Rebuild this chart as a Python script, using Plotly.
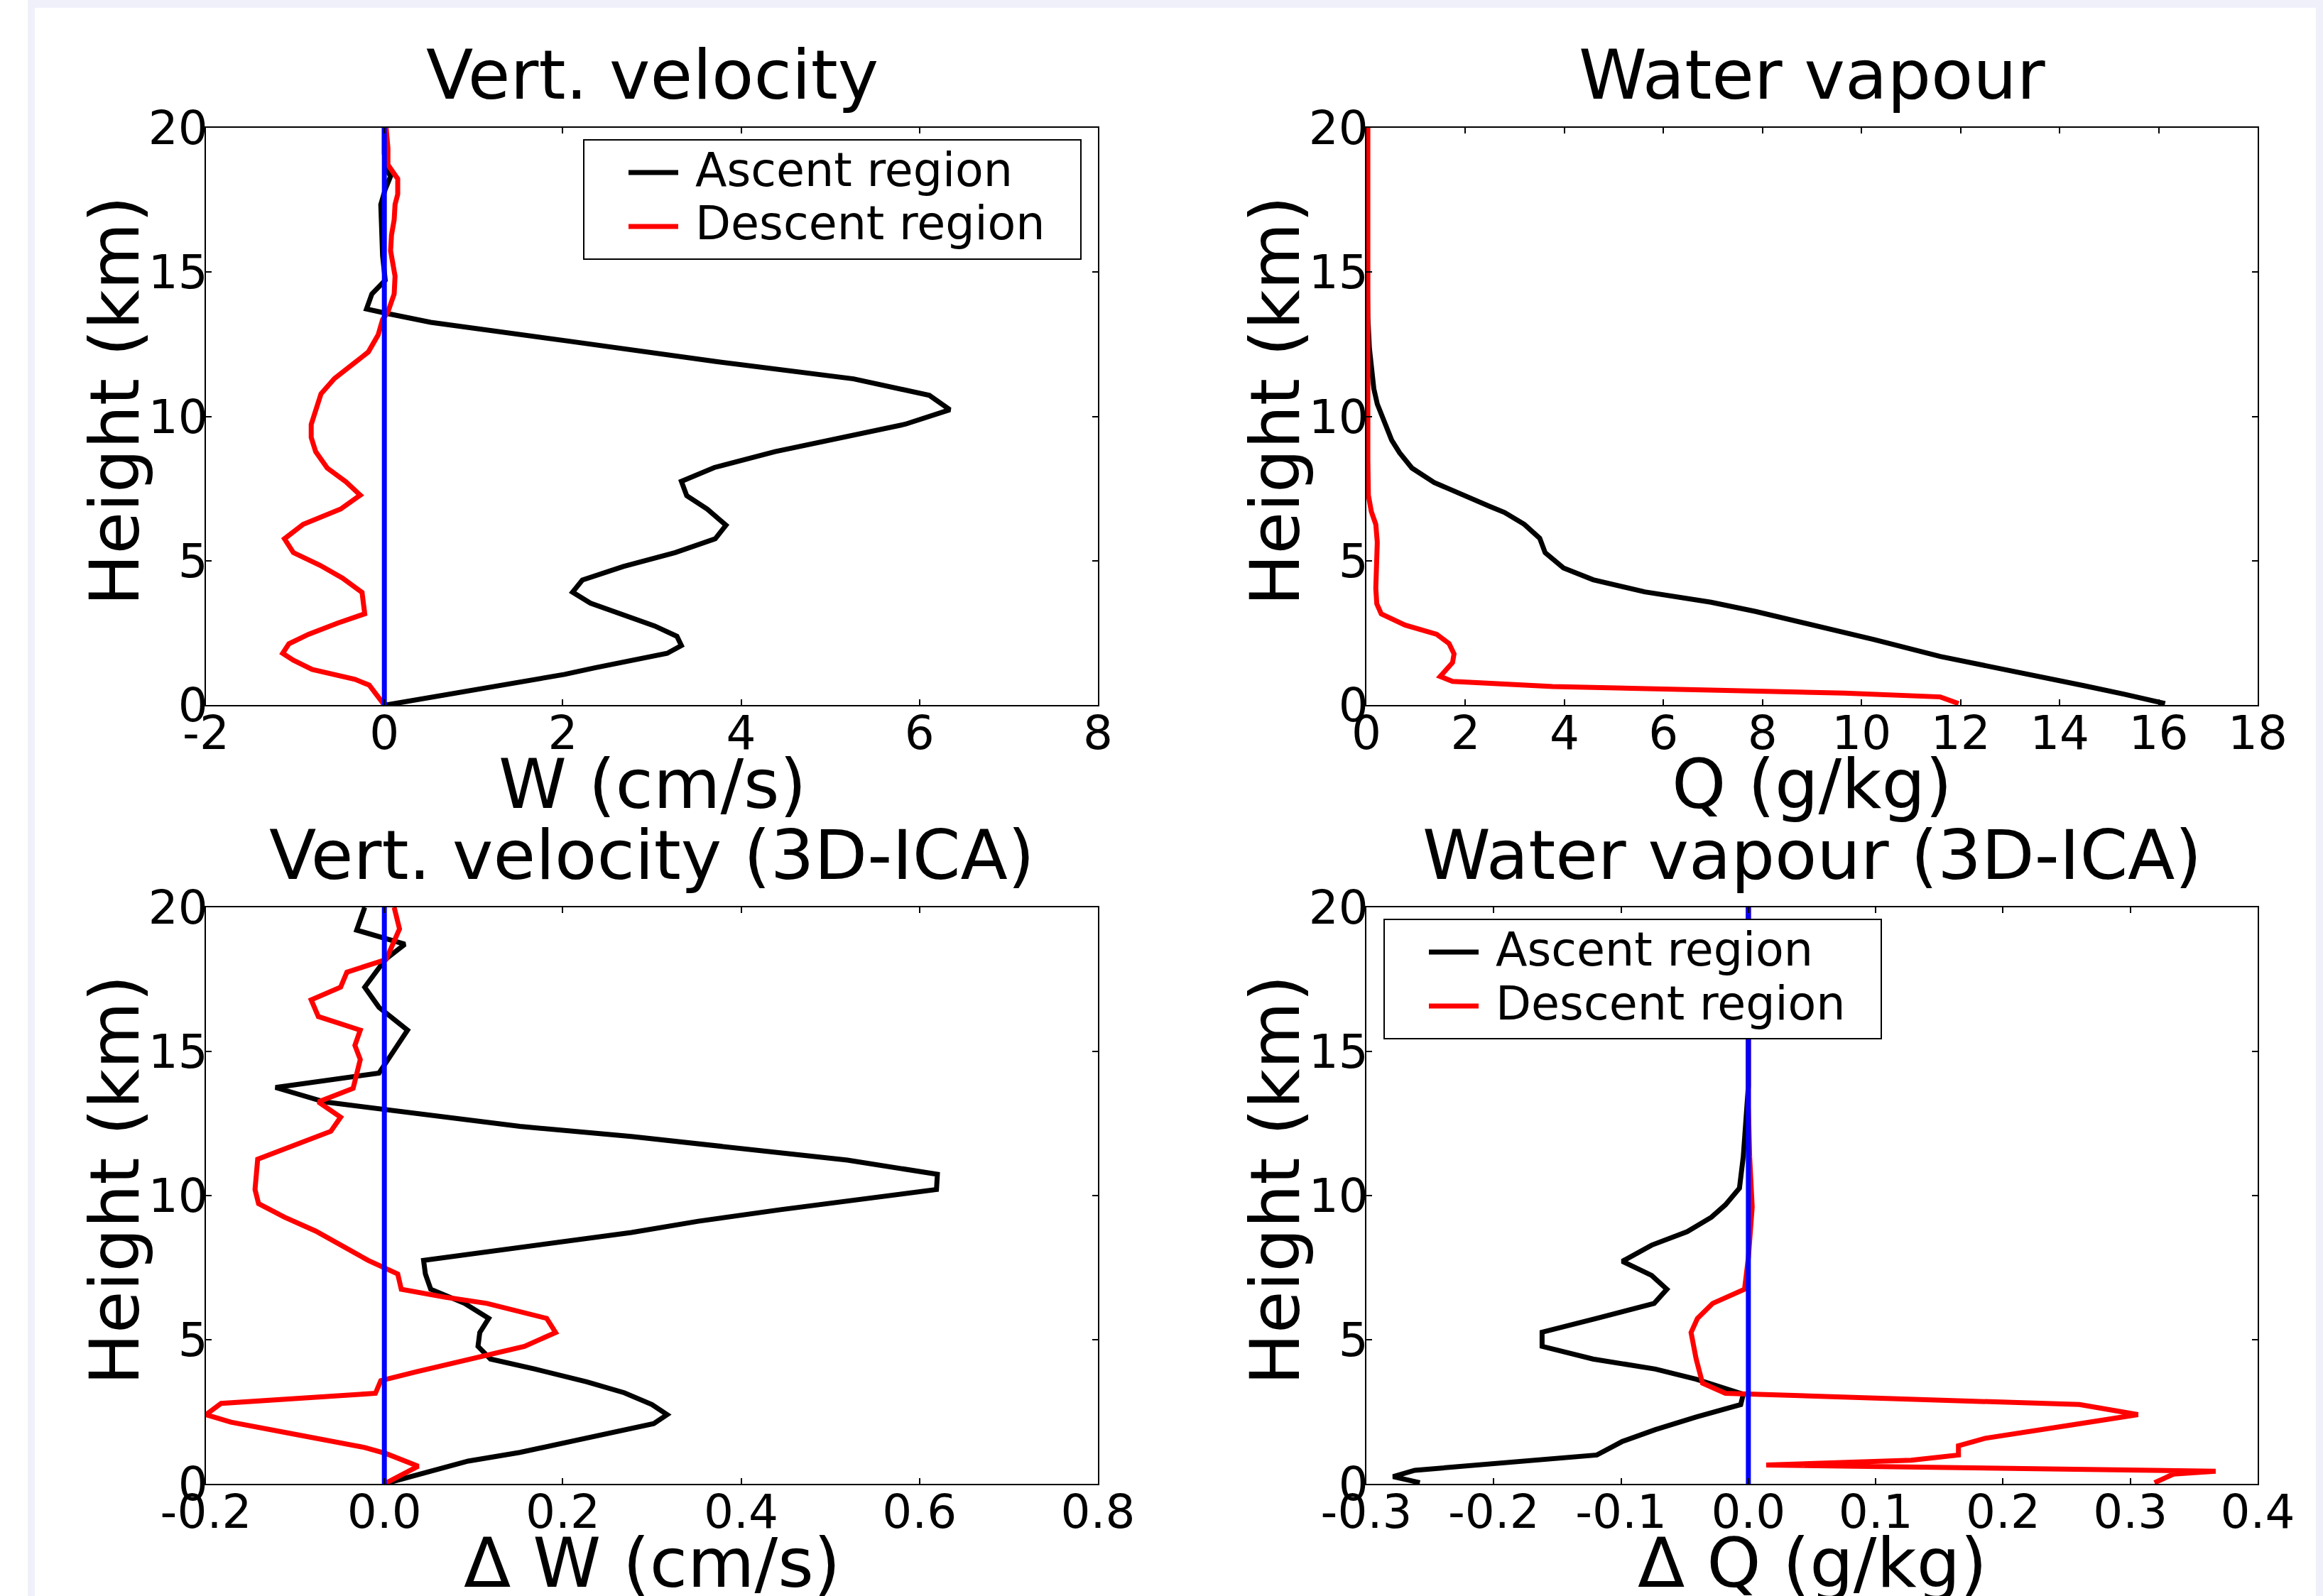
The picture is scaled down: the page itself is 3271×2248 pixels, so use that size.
import plotly.graph_objects as go

# ---------------- data ----------------
# Panel 1: vertical velocity W (cm/s) vs height (km)
H_W_ASC = [0.0, 0.5, 1.06, 1.29, 1.55, 1.79, 2.06, 2.38, 2.74, 3.53, 3.91, 4.33, 4.80, 5.28, 5.76, 6.23,
           6.79, 7.25, 7.75, 8.23, 8.78, 9.30, 9.73, 10.23, 10.73, 11.30, 11.90, 12.61, 12.94, 13.26,
           13.58, 13.72, 14.24, 14.72, 15.57, 16.45, 17.34, 17.87, 18.32, 18.58, 19.1, 20.0]
W_ASC = [0.02, 0.95, 2.02, 2.36, 2.80, 3.17, 3.33, 3.28, 3.03, 2.31, 2.11, 2.22, 2.68, 3.26, 3.71, 3.83,
         3.62, 3.39, 3.33, 3.70, 4.38, 5.15, 5.84, 6.34, 6.11, 5.26, 3.72, 2.06, 1.27, 0.52,
         0.01, -0.20, -0.14, 0.01, -0.02, -0.03, -0.04, 0.01, 0.07, 0.02, 0.0, 0.0]
H_W_DES = [0.0, 0.69, 0.89, 1.23, 1.55, 1.79, 2.12, 2.45, 2.84, 3.16, 3.90, 4.40, 4.84, 5.28, 5.76, 6.26,
           6.79, 7.27, 7.73, 8.21, 8.78, 9.27, 9.72, 10.25, 10.78, 11.31, 11.93, 12.23, 12.82, 13.35,
           13.62, 14.24, 14.86, 15.39, 15.74, 16.28, 16.81, 17.34, 17.70, 18.23, 18.72, 19.3, 20.0]
W_DES = [0.0, -0.17, -0.33, -0.81, -1.02, -1.14, -1.07, -0.85, -0.52, -0.22, -0.25, -0.47, -0.72, -1.02,
         -1.12, -0.91, -0.49, -0.27, -0.43, -0.64, -0.77, -0.82, -0.82, -0.77, -0.71, -0.56, -0.31, -0.18,
         -0.07, -0.02, 0.04, 0.11, 0.12, 0.09, 0.07, 0.08, 0.11, 0.12, 0.15, 0.15, 0.04, 0.04, 0.02]

# Panel 2: water vapour Q (g/kg)
H_Q_ASC = [0.05, 0.23, 0.37, 0.67, 0.85, 1.29, 1.68, 2.27, 2.71, 3.24, 3.56, 3.92, 4.34, 4.75, 5.28, 5.78,
           6.26, 6.67, 6.88, 7.32, 7.71, 8.21, 8.74, 9.18, 9.80, 10.43, 10.96, 11.67, 12.38, 13.44, 15.57, 20.0]
Q_ASC = [16.13, 15.69, 15.31, 14.49, 13.97, 12.63, 11.59, 10.24, 9.20, 7.86, 6.96, 5.62, 4.58, 3.98, 3.61,
         3.50, 3.19, 2.79, 2.49, 1.89, 1.37, 0.92, 0.67, 0.51, 0.36, 0.22, 0.15, 0.10, 0.06, 0.03, 0.01, 0.01]
H_Q_DES = [0.05, 0.28, 0.41, 0.64, 0.82, 0.99, 1.47, 1.77, 2.13, 2.45, 2.77, 3.16, 3.51, 4.04, 5.64, 6.26,
           6.70, 7.27, 8.48, 20.0]
Q_DES = [11.96, 11.59, 9.65, 3.76, 1.74, 1.49, 1.74, 1.77, 1.67, 1.42, 0.78, 0.30, 0.21, 0.19, 0.22, 0.19,
         0.10, 0.04, 0.03, 0.03]

# Panel 3: delta W (3D-ICA)
H_DW_ASC = [0.0, 0.30, 0.79, 1.09, 1.82, 2.09, 2.40, 2.75, 3.16, 3.54, 3.98, 4.33, 4.77, 5.25, 5.74, 6.26,
            6.75, 7.28, 7.75, 8.19, 8.72, 9.11, 9.51, 10.21, 10.74, 11.23, 11.70, 12.05, 12.40, 13.25,
            13.75, 14.25, 15.04, 15.74, 16.53, 17.23, 18.19, 18.72, 19.21, 20.0]
DW_ASC = [0.0, 0.036, 0.094, 0.152, 0.265, 0.302, 0.317, 0.300, 0.269, 0.227, 0.169, 0.119, 0.105, 0.107,
          0.117, 0.090, 0.052, 0.046, 0.044, 0.152, 0.277, 0.352, 0.444, 0.619, 0.620, 0.519, 0.386, 0.277,
          0.152, -0.067, -0.122, -0.006, 0.011, 0.026, -0.006, -0.022, 0.001, 0.023, -0.031, -0.022]
H_DW_DES = [0.0, 0.61, 1.05, 1.26, 1.70, 2.14, 2.40, 2.79, 3.14, 3.58, 3.89, 4.37, 4.77, 5.25, 5.74, 6.26,
            6.47, 6.75, 7.28, 7.75, 8.19, 8.77, 9.25, 9.72, 10.21, 11.26, 12.23, 12.72, 13.25, 13.72,
            14.72, 15.21, 15.74, 16.21, 16.79, 17.23, 17.75, 18.19, 19.25, 20.0]
DW_DES = [0.0, 0.038, 0.002, -0.022, -0.097, -0.172, -0.200, -0.183, -0.010, -0.004, 0.036, 0.102, 0.157,
          0.192, 0.182, 0.115, 0.069, 0.019, 0.015, -0.018, -0.043, -0.077, -0.112, -0.141, -0.145, -0.142,
          -0.060, -0.049, -0.074, -0.035, -0.027, -0.033, -0.027, -0.074, -0.082, -0.049, -0.042, 0.002,
          0.017, 0.011]

# Panel 4: delta Q (3D-ICA)
H_DQ_ASC = [0.04, 0.25, 0.47, 0.82, 1.0, 1.47, 1.88, 2.32, 2.75, 3.11, 3.63, 3.98, 4.33, 4.77, 5.26, 5.74,
            6.26, 6.75, 7.23, 7.72, 8.28, 8.75, 9.25, 9.68, 10.26, 11.35, 12.40, 13.8, 20.0]
DQ_ASC = [-0.258, -0.279, -0.262, -0.160, -0.119, -0.099, -0.073, -0.041, -0.006, -0.004, -0.041, -0.073,
          -0.122, -0.162, -0.162, -0.119, -0.074, -0.064, -0.076, -0.099, -0.076, -0.048, -0.029, -0.018,
          -0.007, -0.004, -0.002, 0.0, 0.0]
H_DQ_DES = [0.04, 0.34, 0.44, 0.65, 0.82, 1.0, 1.32, 1.58, 2.05, 2.40, 2.75, 3.14, 3.49, 4.33, 5.25, 5.74,
            6.26, 6.75, 7.84, 9.6, 11.35, 13.1, 20.0]
DQ_DES = [0.319, 0.334, 0.367, 0.014, 0.128, 0.165, 0.165, 0.186, 0.255, 0.306, 0.260, -0.018, -0.036,
          -0.041, -0.045, -0.040, -0.028, -0.003, 0.0, 0.003, 0.001, 0.0, 0.0]

# Zero reference line
ZERO_X = [0, 0]
ZERO_H = [0, 20]

# Tick labels
X1_TICKS = [-2, 0, 2, 4, 6, 8]
X1_TEXT = ["-2", "0", "2", "4", "6", "8"]
X2_TICKS = [0, 2, 4, 6, 8, 10, 12, 14, 16, 18]
X2_TEXT = ["0", "2", "4", "6", "8", "10", "12", "14", "16", "18"]
X3_TICKS = [-0.2, 0.0, 0.2, 0.4, 0.6, 0.8]
X3_TEXT = ["-0.2", "0.0", "0.2", "0.4", "0.6", "0.8"]
X4_TICKS = [-0.3, -0.2, -0.1, 0.0, 0.1, 0.2, 0.3, 0.4]
X4_TEXT = ["-0.3", "-0.2", "-0.1", "0.0", "0.1", "0.2", "0.3", "0.4"]
Y_TICKS = [0, 5, 10, 15, 20]
Y_TEXT = ["0", "5", "10", "15", "20"]

TITLES = ["Vert. velocity", "Water vapour", "Vert. velocity (3D-ICA)", "Water vapour (3D-ICA)"]
XLABELS = ["W (cm/s)", "Q (g/kg)", "\u0394 W (cm/s)", "\u0394 Q (g/kg)"]
YLABEL = "Height (km)"
LEGEND_NAMES = ["Ascent region", "Descent region"]

# ---------------- layout helpers ----------------
WP, HP = 3271, 2248
FONT = "DejaVu Sans"


def fx(x):
    return x / WP


def fy(y):
    return 1 - y / HP


# axes boxes in pixels: left, right, top, bottom
BOX = {
    1: (290, 1546, 180, 993),
    2: (1924, 3179, 180, 993),
    3: (290, 1546, 1278, 2090),
    4: (1924, 3179, 1278, 2090),
}
RANGES = {1: [-2, 8], 2: [0, 18], 3: [-0.2, 0.8], 4: [-0.3, 0.4]}
XT = {1: (X1_TICKS, X1_TEXT), 2: (X2_TICKS, X2_TEXT), 3: (X3_TICKS, X3_TEXT), 4: (X4_TICKS, X4_TEXT)}

SERIES = {
    1: [(W_ASC, H_W_ASC), (W_DES, H_W_DES)],
    2: [(Q_ASC, H_Q_ASC), (Q_DES, H_Q_DES)],
    3: [(DW_ASC, H_DW_ASC), (DW_DES, H_DW_DES)],
    4: [(DQ_ASC, H_DQ_ASC), (DQ_DES, H_DQ_DES)],
}
ZERO_PANELS = [1, 3, 4]
COLORS = ["#000000", "#ff0000"]
BLUE = "#0000ff"
LW = 7

fig = go.Figure()

for p in (1, 2, 3, 4):
    xa = "x" if p == 1 else f"x{p}"
    ya = "y" if p == 1 else f"y{p}"
    for i, (xs, hs) in enumerate(SERIES[p]):
        fig.add_trace(go.Scatter(x=xs, y=hs, mode="lines", xaxis=xa, yaxis=ya,
                                 line=dict(color=COLORS[i], width=LW),
                                 name=LEGEND_NAMES[i], showlegend=False, hoverinfo="skip"))
    if p in ZERO_PANELS:
        fig.add_trace(go.Scatter(x=ZERO_X, y=ZERO_H, mode="lines", xaxis=xa, yaxis=ya,
                                 line=dict(color=BLUE, width=LW), showlegend=False, hoverinfo="skip"))

axis_common = dict(showline=True, linecolor="black", linewidth=2, mirror="ticks",
                   ticks="inside", ticklen=8, tickwidth=1.5, tickcolor="black",
                   showgrid=False, zeroline=False, automargin=False,
                   tickfont=dict(family=FONT, size=66, color="black"))

layout = dict(width=WP, height=HP, margin=dict(l=0, r=0, t=0, b=0), autosize=False,
              paper_bgcolor="white", plot_bgcolor="white", template="none", showlegend=False,
              font=dict(family=FONT, color="black"))

annotations = []
shapes = []

# page frame (light lavender band)
LAV = "#f0f0fa"
shapes.append(dict(type="rect", xref="paper", yref="paper", x0=fx(39), x1=fx(49), y0=0, y1=1,
                   fillcolor=LAV, line=dict(width=0), layer="below"))
shapes.append(dict(type="rect", xref="paper", yref="paper", x0=fx(39), x1=1, y0=fy(11), y1=1,
                   fillcolor=LAV, line=dict(width=0), layer="below"))
shapes.append(dict(type="rect", xref="paper", yref="paper", x0=fx(3261), x1=1, y0=0, y1=1,
                   fillcolor=LAV, line=dict(width=0), layer="below"))

for p in (1, 2, 3, 4):
    l, r, t, b = BOX[p]
    xk = "xaxis" if p == 1 else f"xaxis{p}"
    yk = "yaxis" if p == 1 else f"yaxis{p}"
    xa = "x" if p == 1 else f"x{p}"
    ya = "y" if p == 1 else f"y{p}"
    layout[xk] = dict(axis_common, domain=[fx(l), fx(r)], anchor=ya, range=RANGES[p],
                      tickvals=XT[p][0], ticktext=XT[p][1], ticklabelstandoff=-19)
    layout[yk] = dict(axis_common, domain=[fy(b), fy(t)], anchor=xa, range=[0, 20],
                      tickvals=Y_TICKS, ticktext=Y_TEXT, ticklabelstandoff=-18)
    cx = (l + r) / 2
    # title
    annotations.append(dict(text=TITLES[p - 1], xref="paper", yref="paper", x=fx(cx), y=fy(t - 74),
                            xanchor="center", yanchor="middle", showarrow=False,
                            font=dict(family=FONT, size=97, color="black")))
    # x label
    annotations.append(dict(text=XLABELS[p - 1], xref="paper", yref="paper", x=fx(cx), y=fy(b + 111),
                            xanchor="center", yanchor="middle", showarrow=False,
                            font=dict(family=FONT, size=97, color="black")))
    # y label
    annotations.append(dict(text=YLABEL, xref="paper", yref="paper", x=fx(l - 129), y=fy((t + b) / 2 - 22),
                            xanchor="center", yanchor="middle", showarrow=False, textangle=-90,
                            font=dict(family=FONT, size=97, color="black")))

# legends (panel 1 top-right, panel 4 top-left)
LEG_W, LEG_H = 700, 168
leg_boxes = [(BOX[1][1] - 24 - LEG_W, BOX[1][2] + 17), (BOX[4][0] + 25, BOX[4][2] + 17)]
for (lx, lt) in leg_boxes:
    shapes.append(dict(type="rect", xref="paper", yref="paper", x0=fx(lx), x1=fx(lx + LEG_W),
                       y0=fy(lt + LEG_H), y1=fy(lt), fillcolor="white",
                       line=dict(color="black", width=2), layer="above"))
    for i, off in enumerate((46, 122)):
        yy = lt + off
        shapes.append(dict(type="line", xref="paper", yref="paper", x0=fx(lx + 63), x1=fx(lx + 133),
                           y0=fy(yy), y1=fy(yy), line=dict(color=COLORS[i], width=LW), layer="above"))
        annotations.append(dict(text=LEGEND_NAMES[i], xref="paper", yref="paper", x=fx(lx + 155),
                                y=fy(yy - 4), xanchor="left", yanchor="middle", showarrow=False,
                                font=dict(family=FONT, size=65, color="black")))

layout["annotations"] = annotations
layout["shapes"] = shapes
fig.update_layout(**layout)

fig.write_html("out.html")
